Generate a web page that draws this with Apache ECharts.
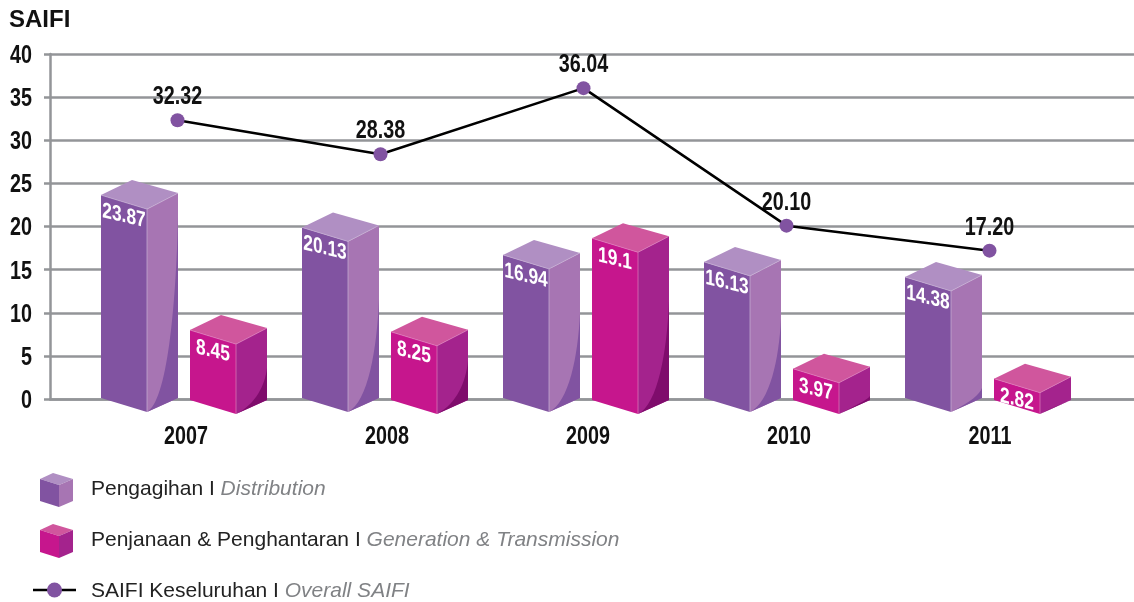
<!DOCTYPE html>
<html>
<head>
<meta charset="utf-8">
<style>
  html, body { margin: 0; padding: 0; background: #fff; }
  #chart { width: 1134px; height: 602px; }
</style>
<script src="https://cdn.jsdelivr.net/npm/echarts@6/dist/echarts.min.js"></script>
</head>
<body>
<div id="chart"></div>
<script>
const years = ["2007", "2008", "2009", "2010", "2011"];
const distribution = [23.87, 20.13, 16.94, 16.13, 14.38];
const generation = [8.45, 8.25, 19.1, 3.97, 2.82];
const overall = [32.32, 28.38, 36.04, 20.1, 17.2];
const yTicks = [0, 5, 10, 15, 20, 25, 30, 35, 40];

// how far up the side face the darker curve reaches, as a share of bar height
const distributionShade = [0.88, 0.57, 0.58, 0.57, 0.08];
const generationShade = [0.44, 0.55, 0.6, 0.12, 0];

const FONT = '"Liberation Sans", sans-serif';
const GRID_GREY = "#939598";

const purple = { front: "#8153a1", side: "#a775b3", top: "#b08fc3", dark: "#8153a1", edge: "#c9b3d6" };
const magenta = { front: "#c6168d", side: "#a4238d", top: "#d0569d", dark: "#7f0c6c", edge: "#e07fbc" };

// legend icons as inline svg, nothing has to load
const svgIcon = (body) =>
    "image://data:image/svg+xml;charset=utf-8," +
    encodeURIComponent(
        `<svg xmlns="http://www.w3.org/2000/svg" width="43" height="38" viewBox="0 0 43 38">${body}</svg>`
    );
const cubeIcon = (c) =>
    svgIcon(
        `<polygon points="7,10 20,4 40,10 26,16" fill="${c.top}"/>` +
            `<polygon points="7,10 26,16 26,38 7,32" fill="${c.front}"/>` +
            `<polygon points="26,16 40,10 40,32 26,38" fill="${c.side}"/>`
    );
const lineIcon = svgIcon(
    `<line x1="0" y1="19" x2="43" y2="19" stroke="#000" stroke-width="2.5"/>` +
        `<circle cx="21.5" cy="19" r="7.5" fill="${purple.front}"/>`
);

// the original type is a condensed bold, none is installed so squeeze the text
const condensed = (text, x, y, size, fill, align, skewY) => ({
    type: "text",
    x: x,
    y: y,
    scaleX: 0.79,
    skewY: skewY || 0,
    style: {
        text: text,
        fill: fill,
        font: `bold ${size}px ${FONT}`,
        align: align || "center",
        verticalAlign: "middle",
    },
});

const boxRenderer = (c, shift, drop, shade) => (params, api) => {
    const [cx, yv] = api.coord([api.value(0), api.value(1)]);
    const base = api.coord([api.value(0), 0])[1] + drop;
    const y = yv + drop;
    const L = cx + shift;
    const F = L + 46;
    const R = L + 77;
    const curve = (base - y) * shade[params.dataIndex];
    return {
        type: "group",
        children: [
            { type: "polygon", shape: { points: [[L, y + 2], [L + 31, y - 13], [R, y], [F, y + 16]] }, style: { fill: c.top } },
            { type: "polygon", shape: { points: [[L, y + 2], [F, y + 16], [F, base + 13], [L, base - 1]] }, style: { fill: c.front } },
            { type: "polygon", shape: { points: [[F, y + 16], [R, y], [R, base - 1], [F, base + 13]] }, style: { fill: c.side } },
            {
                type: "path",
                shape: {
                    pathData: `M${F} ${base + 13}C${F + 20} ${base + 3} ${R - 2} ${base - curve * 0.5} ${R} ${base - 1 - curve}L${R} ${base - 1}Z`,
                },
                style: { fill: c.dark },
            },
            { type: "polyline", shape: { points: [[L, y + 2], [F, y + 16], [R, y]] }, style: { stroke: c.edge, lineWidth: 0.7, fill: null } },
            { type: "line", shape: { x1: F, y1: y + 16, x2: F, y2: base + 13 }, style: { stroke: c.edge, lineWidth: 0.7 } },
            condensed(String(api.value(1)), L + 23, y + 23, 22, "#fff", "center", -0.235),
        ],
    };
};

const chart = echarts.init(document.getElementById("chart"));

chart.setOption({
    animation: false,
    title: {
        text: "SAIFI",
        left: 4,
        top: 3,
        textStyle: { fontFamily: FONT, fontWeight: "bold", fontSize: 24, color: "#111" },
    },
    legend: {
        orient: "vertical",
        left: 33,
        top: 469,
        height: 150,
        padding: 0,
        itemWidth: 43,
        itemHeight: 38,
        itemGap: 13,
        selectedMode: false,
        data: [
            { name: "Pengagihan I Distribution", icon: cubeIcon(purple) },
            { name: "Penjanaan & Penghantaran I Generation & Transmission", icon: cubeIcon(magenta) },
            { name: "SAIFI Keseluruhan I Overall SAIFI", icon: lineIcon },
        ],
        formatter: (name) => {
            const [my, en] = name.split(" I ");
            return `{a|${my} I }{b|${en}}`;
        },
        textStyle: {
            rich: {
                a: { fontFamily: FONT, fontSize: 21, color: "#222", padding: [3, 0, 0, 10] },
                b: { fontFamily: FONT, fontSize: 21, fontStyle: "italic", color: "#808285", padding: [3, 0, 0, 0] },
            },
        },
    },
    // grid 0 holds the gridlines, grid 1 the bars, grid 2 the line
    grid: [
        { left: 50, right: 0, top: 54, bottom: 203 },
        { left: 85.5, width: 1005, top: 54, bottom: 203 },
        { left: 76, width: 1015, top: 54, bottom: 203 },
    ],
    xAxis: [
        {
            gridIndex: 0,
            type: "value",
            min: 0,
            max: 1,
            axisLabel: { show: false },
            axisTick: { show: false },
            splitLine: { show: false },
            axisLine: { show: true, lineStyle: { color: GRID_GREY, width: 2.5 } },
        },
        { gridIndex: 1, type: "category", data: years, show: false },
        { gridIndex: 2, type: "category", data: years, show: false },
    ],
    yAxis: [
        {
            gridIndex: 0,
            type: "value",
            min: yTicks[0],
            max: yTicks[yTicks.length - 1],
            interval: yTicks[1] - yTicks[0],
            axisLine: { show: true, lineStyle: { color: GRID_GREY, width: 2.5 } },
            axisTick: { show: true, length: 6, lineStyle: { color: GRID_GREY, width: 2.5 } },
            axisLabel: { show: false },
            splitLine: { show: true, lineStyle: { color: GRID_GREY, width: 2.5 } },
        },
        { gridIndex: 1, type: "value", min: 0, max: 40, show: false },
        { gridIndex: 2, type: "value", min: 0, max: 40, show: false },
    ],
    series: [
        {
            name: "Pengagihan I Distribution",
            type: "custom",
            xAxisIndex: 1,
            yAxisIndex: 1,
            clip: false,
            itemStyle: { color: purple.front },
            encode: { x: 0, y: 1 },
            data: distribution.map((v, i) => [i, v]),
            renderItem: boxRenderer(purple, -85, 0, distributionShade),
        },
        {
            name: "Penjanaan & Penghantaran I Generation & Transmission",
            type: "custom",
            xAxisIndex: 1,
            yAxisIndex: 1,
            clip: false,
            itemStyle: { color: magenta.front },
            encode: { x: 0, y: 1 },
            data: generation.map((v, i) => [i, v]),
            renderItem: boxRenderer(magenta, 4, 2, generationShade),
        },
        {
            name: "SAIFI Keseluruhan I Overall SAIFI",
            type: "line",
            xAxisIndex: 2,
            yAxisIndex: 2,
            data: overall,
            symbol: "circle",
            symbolSize: 14,
            itemStyle: { color: purple.front },
            lineStyle: { color: "#000", width: 2.5 },
        },
        // value labels of the line
        {
            type: "custom",
            xAxisIndex: 2,
            yAxisIndex: 2,
            clip: false,
            silent: true,
            encode: { x: 0, y: 1 },
            data: overall.map((v, i) => [i, v]),
            renderItem: (params, api) => {
                const [x, y] = api.coord([api.value(0), api.value(1)]);
                return condensed(api.value(1).toFixed(2), x, y - 23, 25, "#111");
            },
        },
        // year labels under the bars
        {
            type: "custom",
            xAxisIndex: 1,
            yAxisIndex: 1,
            clip: false,
            silent: true,
            encode: { x: 0, y: 1 },
            data: years.map((y, i) => [i, 0]),
            renderItem: (params, api) => {
                const [x, y] = api.coord([api.value(0), 0]);
                return condensed(years[params.dataIndex], x, y + 38, 25, "#111");
            },
        },
        // y tick labels
        {
            type: "custom",
            xAxisIndex: 0,
            yAxisIndex: 0,
            clip: false,
            silent: true,
            encode: { x: 0, y: 1 },
            data: yTicks.map((t) => [0, t]),
            renderItem: (params, api) => {
                const [x, y] = api.coord([0, api.value(1)]);
                return condensed(String(api.value(1)), x - 18, y + 2, 25, "#111", "right");
            },
        },
    ],
});

window.addEventListener("resize", () => chart.resize());
</script>
</body>
</html>
